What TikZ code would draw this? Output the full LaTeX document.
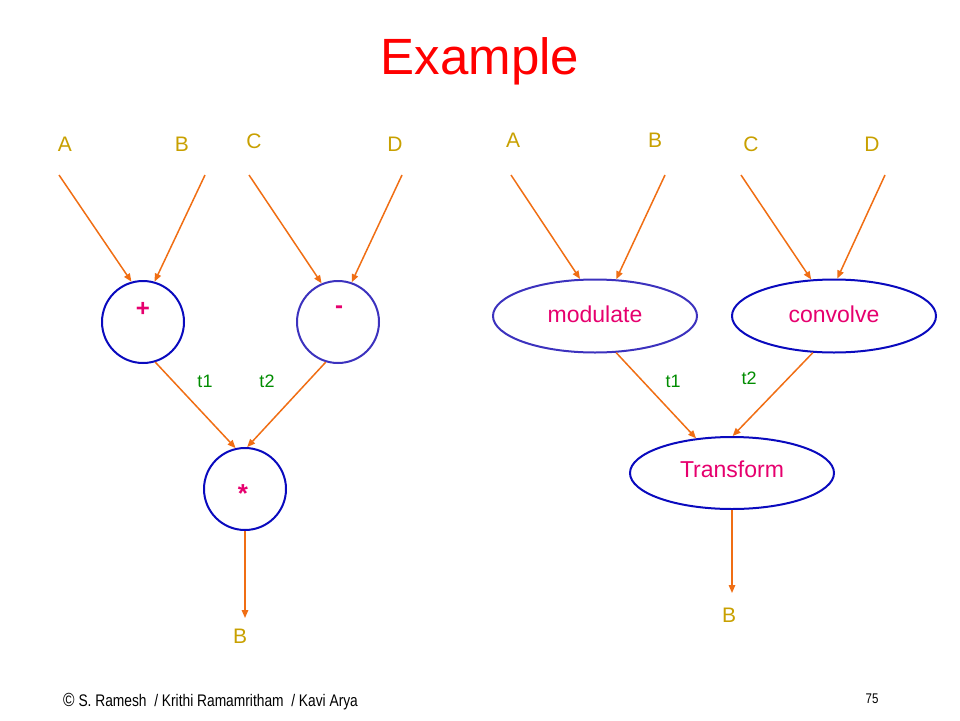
\documentclass[tikz,border=0pt]{standalone}
\usepackage{fontspec}
\setmainfont{Liberation Sans}
\newfontfamily\narrowfont[FakeStretch=0.82]{Liberation Sans}
\usetikzlibrary{shapes.geometric,arrows.meta}
\definecolor{lblgold}{RGB}{200,160,0}
\definecolor{arrorange}{RGB}{240,110,20}
\definecolor{shapeblue}{RGB}{10,10,190}
\definecolor{shapeblue2}{RGB}{60,50,190}
\definecolor{txtpink}{RGB}{230,0,110}
\definecolor{tgreen}{RGB}{0,140,0}
\tikzset{
  lbl/.style={text=lblgold,font=\fontsize{21}{21}\selectfont,inner sep=0pt},
  tlbl/.style={text=tgreen,font=\fontsize{18}{18}\selectfont,inner sep=0pt},
  optxt/.style={text=txtpink,font=\bfseries\fontsize{24}{24}\selectfont,inner sep=0pt},
  circnode/.style={circle,draw=shapeblue,line width=2pt,minimum size=82pt,inner sep=0pt},
  ellnode/.style={ellipse,draw=shapeblue,line width=2pt,minimum width=204pt,minimum height=73pt,inner sep=0pt,text=txtpink,font=\fontsize{23}{23}\selectfont},
  flow/.style={draw=arrorange,line width=1.5pt,-{Triangle[length=8pt,width=6.5pt]}}
}
\begin{document}
\begin{tikzpicture}[x=1pt,y=-1pt]
\useasboundingbox (0,0) rectangle (960,720);
% title
\node[anchor=base,text=red,font=\fontsize{51}{51}\selectfont,inner sep=0pt] (title) at (480,74) {Example};
% left graph labels
\node[lbl] (lA) at (65,144) {A};
\node[lbl] (lB) at (182,144) {B};
\node[lbl] (lC) at (254,141) {C};
\node[lbl] (lD) at (395,144) {D};
\coordinate (sA) at (59,175);
\coordinate (sB) at (205,175);
\coordinate (sC) at (249,175);
\coordinate (sD) at (402,175);
\node[circnode] (plus) at (143,322) {};
\node[optxt] (plustxt) at (143,309) {+};
\node[circnode,draw=shapeblue2] (minus) at (338,322) {};
\node[optxt] (minustxt) at (339,310) {-};
\node[circnode] (star) at (245,489) {};
\node[optxt,font=\bfseries\fontsize{26}{26}\selectfont] (startxt) at (243,494) {*};
\draw[flow] (sA) -- (plus.106);
\draw[flow] (sB) -- (plus.74);
\draw[flow] (sC) -- (minus.113);
\draw[flow] (sD) -- (minus.71);
\draw[flow] (plus.-73) -- (star.103);
\draw[flow] (minus.-107) -- (star.87);
\node[tlbl] (t1l) at (205,381) {t1};
\node[tlbl] (t2l) at (267,381) {t2};
\coordinate (eB) at (245,618);
\draw[flow] (star.south) -- (eB);
\node[lbl] (outB) at (240,636) {B};
% right graph
\node[lbl] (rA) at (513,140) {A};
\node[lbl] (rB) at (655,140) {B};
\node[lbl] (rC) at (751,144) {C};
\node[lbl] (rD) at (872,144) {D};
\coordinate (qA) at (511,175);
\coordinate (qB) at (665,175);
\coordinate (qC) at (741,175);
\coordinate (qD) at (885,175);
\node[ellnode,draw=shapeblue2] (mod) at (595,316) {\raisebox{4pt}{modulate}};
\node[ellnode] (conv) at (834,316) {\raisebox{4pt}{convolve}};
\node[ellnode,minimum height=72pt] (trans) at (732,473) {\raisebox{7pt}{Transform}};
\draw[flow] (qA) -- (mod.112);
\draw[flow] (qB) -- (mod.60);
\draw[flow] (qC) -- (conv.122);
\draw[flow] (qD) -- (conv.85);
\draw[flow] (mod.-60) -- (trans.136);
\draw[flow] (conv.-120) -- (trans.89);
\node[tlbl] (rt1) at (673,381) {t1};
\node[tlbl] (rt2) at (749,378) {t2};
\coordinate (fB) at (732,593);
\draw[flow] (trans.south) -- (fB);
\node[lbl] (routB) at (729,615) {B};
% footer
\node[anchor=base west,inner sep=0pt,font=\narrowfont\fontsize{16.8}{16.8}\selectfont] (foot) at (63,706) {{\fontsize{19}{19}\selectfont\copyright}\ S. Ramesh\ \ / Krithi Ramamritham\ \ / Kavi Arya};
\node[anchor=base,inner sep=0pt,font=\narrowfont\fontsize{14}{14}\selectfont] (pg) at (872,703) {75};
\end{tikzpicture}
\end{document}
